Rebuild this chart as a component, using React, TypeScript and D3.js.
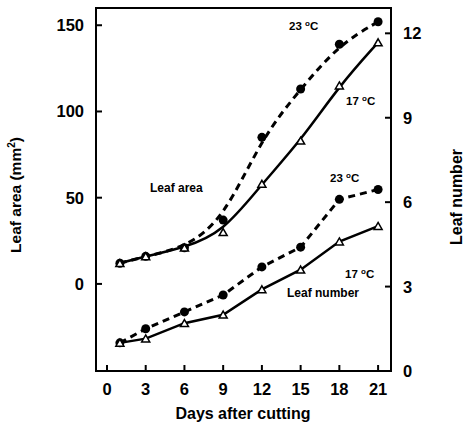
import React, { useRef, useEffect } from 'react';
import * as d3 from 'd3';

const days = [1, 3, 6, 9, 12, 15, 18, 21];
const dayTicks = [0, 3, 6, 9, 12, 15, 18, 21];
const areaTicks = [0, 50, 100, 150];
const numberTicks = [0, 3, 6, 9, 12];

// leaf area (mm2), left axis
const area23 = [12, 16, 21, 37, 85, 113, 139, 152];
const area17 = [12, 16, 21, 30, 58, 83, 115, 140];
// leaf number, right axis
const number23 = [1.0, 1.5, 2.1, 2.7, 3.7, 4.4, 6.1, 6.45];
const number17 = [1.0, 1.15, 1.7, 2.0, 2.9, 3.6, 4.6, 5.15];

const W = 464;
const H = 432;

export default function App() {
  const ref = useRef<SVGSVGElement>(null);

  useEffect(() => {
    const margin = { top: 8, right: 73, bottom: 61, left: 96 };
    const x = d3.scaleLinear().domain([-0.85, 22]).range([margin.left, W - margin.right]);
    const yL = d3.scaleLinear().domain([-50.5, 160]).range([H - margin.bottom, margin.top]);
    const yR = d3.scaleLinear().domain([0, 12.9]).range([H - margin.bottom, margin.top]);

    const svg = d3.select(ref.current);
    svg.selectAll('*').remove();
    const g = svg.append('g').attr('font-family', 'Liberation Sans, Arial, sans-serif').attr('font-weight', 'bold');

    // frame
    g.append('rect')
      .attr('x', margin.left)
      .attr('y', margin.top)
      .attr('width', W - margin.left - margin.right)
      .attr('height', H - margin.top - margin.bottom)
      .attr('fill', 'none')
      .attr('stroke', '#000')
      .attr('stroke-width', 2);

    const bottom = H - margin.bottom;
    const right = W - margin.right;

    // x ticks
    dayTicks.forEach(d => {
      g.append('line').attr('x1', x(d)).attr('x2', x(d)).attr('y1', bottom).attr('y2', bottom - 6)
        .attr('stroke', '#000').attr('stroke-width', 2);
      g.append('text').attr('x', x(d)).attr('y', bottom + 24).attr('text-anchor', 'middle')
        .attr('font-size', 16.5).text(d);
    });
    // left ticks
    areaTicks.forEach(v => {
      g.append('line').attr('x1', margin.left).attr('x2', margin.left + 6).attr('y1', yL(v)).attr('y2', yL(v))
        .attr('stroke', '#000').attr('stroke-width', 2);
      g.append('text').attr('x', 84).attr('y', yL(v) + 6).attr('text-anchor', 'end')
        .attr('font-size', 16.5).text(v);
    });
    // right ticks
    numberTicks.forEach(v => {
      g.append('line').attr('x1', right).attr('x2', right - 6).attr('y1', yR(v)).attr('y2', yR(v))
        .attr('stroke', '#000').attr('stroke-width', 2);
      g.append('text').attr('x', 403).attr('y', yR(v) + 6).attr('text-anchor', 'start')
        .attr('font-size', 16.5).text(v);
    });

    // axis titles
    g.append('text').attr('x', 243).attr('y', 419).attr('text-anchor', 'middle').attr('font-size', 16)
      .text('Days after cutting');
    const lt = g.append('text').attr('transform', 'translate(21,195) rotate(-90)').attr('text-anchor', 'middle')
      .attr('font-size', 15.5);
    lt.append('tspan').text('Leaf area (mm');
    lt.append('tspan').attr('font-size', 10).attr('dy', -6).text('2');
    lt.append('tspan').attr('dy', 6).text(')');
    g.append('text').attr('transform', 'translate(462,197) rotate(-90)').attr('text-anchor', 'middle')
      .attr('font-size', 16).text('Leaf number');

    const series = [
      { vals: area23, y: yL, dashed: true, curve: d3.curveBasis, mark: 'circle' },
      { vals: area17, y: yL, dashed: false, curve: d3.curveBasis, mark: 'tri' },
      { vals: number23, y: yR, dashed: true, curve: d3.curveLinear, mark: 'circle' },
      { vals: number17, y: yR, dashed: false, curve: d3.curveLinear, mark: 'tri' },
    ];

    series.forEach(s => {
      const line = d3.line<number>()
        .x((d, i) => x(days[i]))
        .y(d => s.y(d))
        .curve(s.curve);
      g.append('path').datum(s.vals).attr('d', line).attr('fill', 'none').attr('stroke', '#000')
        .attr('stroke-width', s.dashed ? 3 : 2.5)
        .attr('stroke-dasharray', s.dashed ? '7,5' : null);
    });

    const tri = d3.symbol().type(d3.symbolTriangle).size(28);
    series.forEach(s => {
      s.vals.forEach((v, i) => {
        if (s.mark === 'circle') {
          g.append('circle').attr('cx', x(days[i])).attr('cy', s.y(v)).attr('r', 4.5).attr('fill', '#000');
        } else {
          g.append('path').attr('d', tri).attr('transform', `translate(${x(days[i])},${s.y(v) + 1})`)
            .attr('fill', '#fff').attr('stroke', '#000').attr('stroke-width', 1.5);
        }
      });
    });

    // annotations
    const deg = (xx: number, yy: number, t: string) => {
      const tx = g.append('text').attr('x', xx).attr('y', yy).attr('font-size', 11.5);
      tx.append('tspan').text(t + ' ');
      tx.append('tspan').attr('font-size', 8).attr('dy', -4).text('o');
      tx.append('tspan').attr('dy', 4).text('C');
    };
    deg(289, 30, '23');
    deg(346, 105, '17');
    deg(330, 182, '23');
    deg(345, 278, '17');
    g.append('text').attr('x', 150).attr('y', 192).attr('font-size', 12).text('Leaf area');
    g.append('text').attr('x', 287).attr('y', 297).attr('font-size', 12).text('Leaf number');
  }, []);

  return (
    <svg ref={ref} width={W} height={H} style={{ position: 'absolute', left: 0, top: 0, background: '#fff' }} />
  );
}
